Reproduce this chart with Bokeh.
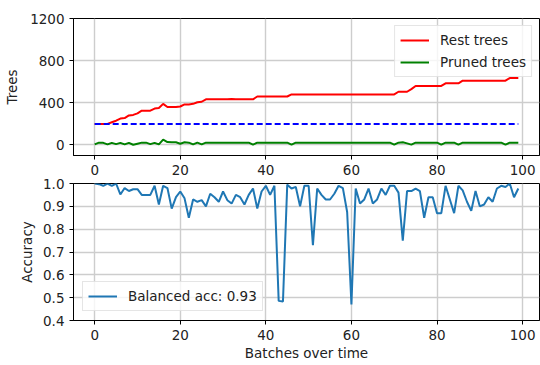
from bokeh.plotting import figure
from bokeh.layouts import column
from bokeh.models import FixedTicker, Range1d, NumeralTickFormatter
from bokeh.embed import file_html
from bokeh.resources import INLINE

# ---------------- data ----------------
batches = list(range(100))

rest_trees = [200, 200, 200, 200, 215, 230, 250, 255, 280, 285,
              300, 325, 325, 325, 345, 350, 390, 360, 360, 360,
              365, 385, 385, 390, 405, 410, 433, 433, 433, 433,
              433, 433, 435, 433, 433, 433, 433, 433, 460, 460,
              460, 460, 460, 460, 460, 460, 480, 480, 480, 480,
              480, 480, 480, 480, 480, 480, 480, 480, 480, 480,
              480, 480, 480, 480, 480, 480, 480, 480, 480, 480,
              480, 505, 505, 505, 530, 560, 560, 560, 560, 560,
              560, 560, 585, 585, 585, 585, 610, 610, 610, 610,
              610, 610, 610, 610, 610, 610, 610, 635, 635, 635]

pruned_trees = [5, 22, 20, 5, 20, 8, 20, 5, 20, 2,
                12, 22, 22, 8, 20, 5, 50, 28, 25, 25,
                12, 25, 22, 5, 22, 5, 22, 22, 22, 22,
                22, 22, 22, 22, 22, 22, 22, 3, 22, 22,
                22, 22, 22, 22, 22, 22, 3, 22, 22, 22,
                22, 22, 22, 22, 22, 22, 22, 22, 22, 22,
                22, 22, 22, 22, 22, 22, 22, 22, 22, 22,
                3, 22, 25, 15, 3, 22, 22, 22, 22, 22,
                22, 3, 22, 22, 22, 3, 22, 22, 22, 22,
                22, 22, 22, 22, 22, 22, 3, 22, 22, 22]

tree_threshold = [200] * len(batches)

accuracy = [1.0, 0.997, 0.99, 1.0, 0.99, 1.0, 0.952, 0.98, 0.967, 0.975,
            0.975, 0.95, 0.95, 0.95, 0.99, 0.908, 0.99, 0.98, 0.89, 0.94,
            0.965, 0.935, 0.85, 0.93, 0.92, 0.927, 0.90, 0.955, 0.94, 0.92,
            0.965, 0.927, 0.912, 0.95, 0.94, 0.908, 0.95, 0.978, 0.89, 0.965,
            0.99, 0.95, 0.99, 0.486, 0.483, 0.995, 0.978, 0.985, 0.90, 0.99,
            0.99, 0.73, 0.978, 0.95, 0.93, 0.93, 0.955, 0.99, 0.98, 0.875,
            0.47, 0.978, 0.912, 0.93, 0.978, 0.912, 0.93, 0.978, 0.95, 0.99,
            0.99, 0.96, 0.75, 0.967, 0.967, 0.978, 0.967, 0.85, 0.94, 0.94,
            0.87, 0.87, 0.99, 0.93, 0.87, 0.99, 0.97, 0.92, 0.88, 0.967,
            0.90, 0.908, 0.94, 0.92, 0.978, 0.99, 0.985, 1.0, 0.94, 0.978]

x_ticks = [0, 20, 40, 60, 80, 100]
tree_ticks = [0, 400, 800, 1200]
acc_ticks = [0.4, 0.5, 0.6, 0.7, 0.8, 0.9, 1.0]

FONT = "DejaVu Sans"
FS = "13.5px"


def style(p):
    p.outline_line_color = "black"
    p.outline_line_width = 1
    p.outline_line_alpha = 1
    for ax in (p.xaxis, p.yaxis):
        ax.axis_line_color = "black"
        ax.major_tick_out = 4
        ax.major_tick_in = 0
        ax.minor_tick_out = 0
        ax.minor_tick_in = 0
        ax.major_tick_line_color = "black"
        ax.major_label_text_font = FONT
        ax.major_label_text_font_size = FS
        ax.major_label_text_color = "#222222"
        ax.axis_label_text_font = FONT
        ax.axis_label_text_font_size = FS
        ax.axis_label_text_font_style = "normal"
        ax.axis_label_text_color = "#222222"
        ax.major_label_standoff = 5
    for g in (p.xgrid, p.ygrid):
        g.grid_line_color = "#cdcdcd"
        g.grid_line_width = 1.4
    p.xaxis.ticker = FixedTicker(ticks=x_ticks)


def style_legend(lg, margin, padding, spacing):
    lg.margin = margin
    lg.padding = padding
    lg.spacing = spacing
    lg.label_height = 18
    lg.glyph_height = 18
    lg.glyph_width = 29
    lg.label_standoff = 11
    lg.label_text_font = FONT
    lg.label_text_font_size = FS
    lg.label_text_color = "#222222"
    lg.border_line_color = "#cccccc"
    lg.border_line_width = 1
    lg.background_fill_alpha = 0.8


# ---------------- top plot ----------------
p1 = figure(frame_width=466, frame_height=137,
            min_border_left=73, min_border_right=1,
            min_border_top=18, min_border_bottom=35,
            x_range=Range1d(-4.95, 103.95), y_range=Range1d(-100, 1200),
            output_backend="svg", toolbar_location=None)
style(p1)
p1.yaxis.ticker = FixedTicker(ticks=tree_ticks)
p1.yaxis.axis_label = "Trees"
p1.yaxis.axis_label_standoff = 7

p1.line(batches, rest_trees, line_color="#ff0000", line_width=2, legend_label="Rest trees")
p1.line(batches, pruned_trees, line_color="#008000", line_width=2, legend_label="Pruned trees")
p1.line(batches, tree_threshold, line_color="#0000ff", line_width=2, line_dash="6 3")

lg = p1.legend[0]
lg.location = "top_right"
style_legend(lg, 7, 5, 4)

# ---------------- bottom plot ----------------
p2 = figure(frame_width=466, frame_height=137,
            min_border_left=73, min_border_right=1,
            min_border_top=10, min_border_bottom=45,
            x_range=p1.x_range, y_range=Range1d(0.4, 1.0),
            output_backend="svg", toolbar_location=None)
style(p2)
p2.border_fill_alpha = 0
p2.yaxis.ticker = FixedTicker(ticks=acc_ticks)
p2.yaxis.formatter = NumeralTickFormatter(format="0.0")
p2.yaxis.axis_label = "Accuracy"
p2.yaxis.axis_label_standoff = 5
p2.xaxis.axis_label = "Batches over time"
p2.xaxis.axis_label_standoff = 2

p2.line(batches, accuracy, line_color="#1f77b4", line_width=2, legend_label="Balanced acc: 0.93")
lg2 = p2.legend[0]
lg2.location = "bottom_left"
style_legend(lg2, 9, 5, 4)

p2.margin = (-17, 0, 0, 0)

layout = column(p1, p2, spacing=0)

open("out.html", "w").write(file_html(layout, INLINE))
